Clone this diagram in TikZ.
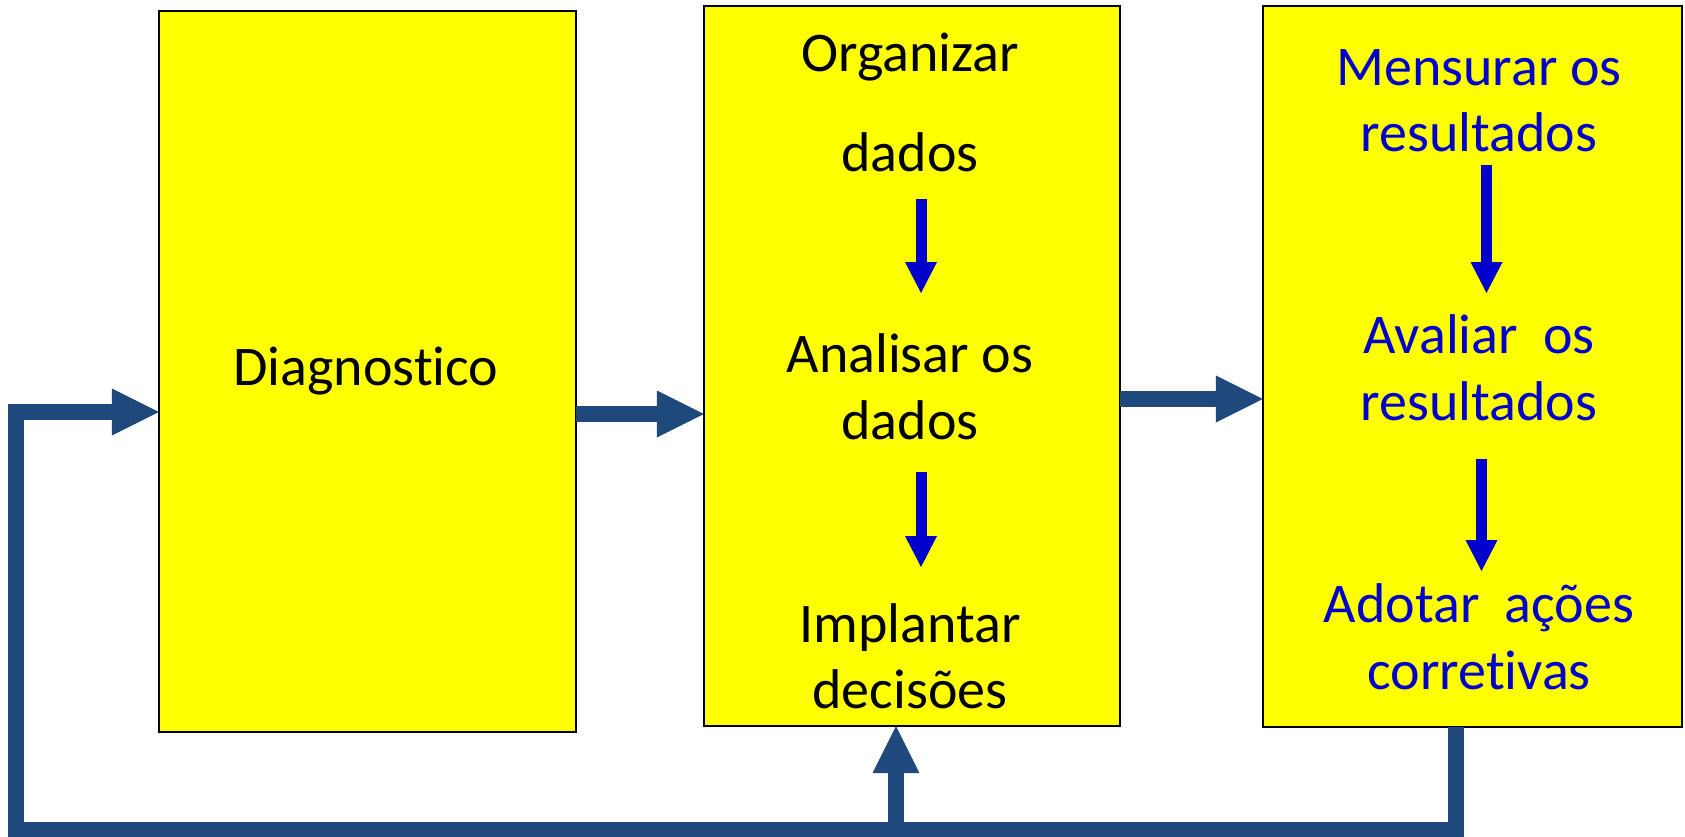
\documentclass[tikz,border=0pt]{standalone}
\usepackage{fontspec}
\setmainfont{Carlito}[Ligatures={NoCommon,NoRequired,NoContextual}]
\usetikzlibrary{arrows.meta}
\definecolor{boxyellow}{RGB}{255,255,0}
\definecolor{loopblue}{RGB}{31,73,125}
\definecolor{textblue}{RGB}{0,0,204}
\tikzset{
  stagebox/.style={draw=black, line width=2.5pt, fill=boxyellow},
  bigarrow/.style={draw=loopblue, line width=16pt, line join=miter,
    -{Triangle[length=47pt, width=47pt, line width=0pt]}},
  smallarrow/.style={draw=textblue, line width=11pt,
    -{Triangle[length=31pt, width=32pt, line width=0pt]}},
  blacktext/.style={anchor=base, inner sep=0pt, font=\fontsize{56}{68}\selectfont},
  bluetext/.style={blacktext, text=textblue},
}
\begin{document}
\begin{tikzpicture}[x=1pt,y=-1pt]
\useasboundingbox (0,0) rectangle (1685,836);
% boxes
\path[stagebox] (159,11) rectangle (576,732);
\path[stagebox] (704,6) rectangle (1120,726);
\path[stagebox] (1263,6) rectangle (1682,727);
\node[inner sep=0pt, minimum width=417pt, minimum height=721pt] (b1) at (367.5,371.5) {};
\node[inner sep=0pt, minimum width=416pt, minimum height=720pt] (b2) at (912,366) {};
\node[inner sep=0pt, minimum width=419pt, minimum height=721pt] (b3) at (1472.5,366.5) {};
% texts
\node[blacktext] (tdiag) at (366,385) {Diagnostico};
\node[blacktext] (torg) at (910,71) {Organizar};
\node[blacktext] (tdados1) at (910,171) {dados};
\node[blacktext] (tanal) at (910,372) {Analisar os};
\node[blacktext] (tdados2) at (910,439) {dados};
\node[blacktext] (timpl) at (910,642) {Implantar};
\node[blacktext] (tdec) at (910,708) {decisões};
\node[bluetext] (tmens) at (1479,85) {Mensurar os};
\node[bluetext] (tres1) at (1479,151) {resultados};
\node[bluetext] (taval) at (1479,353) {Avaliar\ \ os};
\node[bluetext] (tres2) at (1479,420) {resultados};
\node[bluetext] (tadot) at (1479,622) {Adotar\ \ ações};
\node[bluetext] (tcorr) at (1479,689) {corretivas};
% reference coordinates
\coordinate (yA) at (0,412);
\coordinate (yB) at (0,414);
\coordinate (yC) at (0,399);
\coordinate (yBot) at (0,830);
\coordinate (xL) at (16,0);
\coordinate (xUp) at (896,0);
\coordinate (xR) at (1456,0);
\coordinate (s1a) at (921,199); \coordinate (s1b) at (921,293);
\coordinate (s2a) at (921,472); \coordinate (s2b) at (921,567);
\coordinate (s3a) at (1486.5,165); \coordinate (s3b) at (1486.5,293);
\coordinate (s4a) at (1481.5,459); \coordinate (s4b) at (1481.5,571);
% main connectors
\draw[bigarrow] (b1.east |- yB) -- (b2.west |- yB);
\draw[bigarrow] (b2.east |- yC) -- (b3.west |- yC);
% feedback loop
\draw[bigarrow] (b3.south -| xR) -- (xR |- yBot) -- (xL |- yBot) -- (xL |- yA) -- (b1.west |- yA);
\draw[bigarrow] (xUp |- yBot) -- (b2.south -| xUp);
% inner arrows
\draw[smallarrow] (s1a) -- (s1b);
\draw[smallarrow] (s2a) -- (s2b);
\draw[smallarrow] (s3a) -- (s3b);
\draw[smallarrow] (s4a) -- (s4b);
\end{tikzpicture}
\end{document}
